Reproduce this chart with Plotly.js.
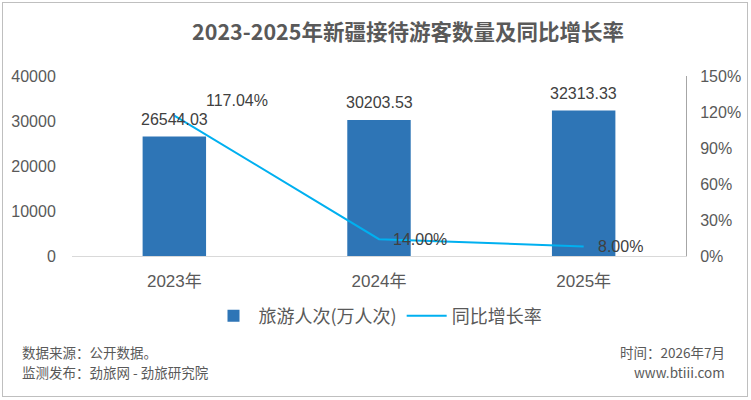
<!DOCTYPE html>
<html>
<head>
<meta charset="utf-8">
<script src="https://cdn.plot.ly/plotly-3.0.1.min.js"></script>
<style>
  body { margin: 0; background: #fff; }
  #wrap { position: relative; width: 751px; height: 400px; }
  #chart { width: 751px; height: 400px; }
  #frame { position: absolute; left: 2px; top: 2px; width: 744px; height: 393px;
           border: 1.5px solid #bfbfbf; pointer-events: none; }
</style>
</head>
<body>
<div id="wrap">
  <div id="chart"></div>
  <div id="frame"></div>
</div>
<script>
var years = ['2023年', '2024年', '2025年'];
var visitors = [26544.03, 30203.53, 32313.33];
var growth = [117.04, 14.00, 8.00];
var growthLabels = ['117.04%', '14.00%', '8.00%'];

var font = '"Liberation Sans", Arial, "Noto Sans CJK SC", sans-serif';
var cjk = '"Noto Sans CJK SC", sans-serif';
var grey = '#595959';

var bars = {
    x: years,
    y: visitors,
    name: '旅游人次(万人次)',
    type: 'bar',
    width: 0.31,
    marker: { color: '#2e75b6' },
    hoverinfo: 'none'
};

var line = {
    x: years,
    y: growth,
    name: '同比增长率',
    type: 'scatter',
    mode: 'lines',
    yaxis: 'y2',
    line: { color: '#00b0f0', width: 2 },
    hoverinfo: 'none'
};

var annotationContent = [];
// value labels above the bars
for (var i = 0; i < years.length; i++) {
    annotationContent.push({
        x: years[i],
        y: visitors[i],
        xref: 'x',
        yref: 'y',
        text: visitors[i].toFixed(2),
        showarrow: false,
        xanchor: 'center',
        yanchor: 'bottom',
        yshift: 7,
        font: { size: 16, color: '#404040', family: font }
    });
}
// percentage labels beside the line points
var shifts = [[30, 15], [12, 0], [12, 0]];
for (var i = 0; i < years.length; i++) {
    annotationContent.push({
        x: years[i],
        y: growth[i],
        xref: 'x',
        yref: 'y2',
        text: growthLabels[i],
        showarrow: false,
        xanchor: 'left',
        yanchor: 'middle',
        xshift: shifts[i][0],
        yshift: shifts[i][1],
        font: { size: 16, color: '#404040', family: font }
    });
}

// footer notes
var footFont = { size: 13.5, color: grey, family: cjk };
var notes = [
    ['数据来源：公开数据。', 20, 352, 'left'],
    ['监测发布：劲旅网 - 劲旅研究院', 20, 372, 'left'],
    ['时间：2026年7月', 727, 352, 'right'],
    ['www.btiii.com', 727, 372, 'right']
];
var L = 72, R = 686, T = 76, B = 256;
notes.forEach(function (n) {
    annotationContent.push({
        text: n[0],
        xref: 'paper',
        yref: 'paper',
        x: (n[1] - L) / (R - L),
        y: (B - n[2]) / (B - T),
        xanchor: n[3],
        yanchor: 'middle',
        showarrow: false,
        font: footFont
    });
});

var layout = {
    width: 751,
    height: 400,
    margin: { l: L, r: 751 - R, t: T, b: 400 - B, pad: 0 },
    paper_bgcolor: '#fff',
    plot_bgcolor: '#fff',
    title: {
        text: '<b>2023-2025年新疆接待游客数量及同比增长率</b>',
        font: { size: 21.5, color: grey, family: cjk },
        x: 408 / 751,
        xanchor: 'center',
        y: 1 - 32 / 400,
        yanchor: 'middle'
    },
    xaxis: {
        type: 'category',
        showgrid: false,
        zeroline: false,
        showline: true,
        linecolor: '#d9d9d9',
        linewidth: 1,
        ticks: 'outside',
        ticklen: 10,
        tickcolor: 'rgba(0,0,0,0)',
        tickfont: { size: 17, color: grey, family: font },
        fixedrange: true
    },
    yaxis: {
        range: [0, 40000],
        dtick: 10000,
        tickformat: 'd',
        showgrid: false,
        zeroline: false,
        showline: false,
        ticks: 'outside',
        ticklen: 12,
        tickcolor: 'rgba(0,0,0,0)',
        tickfont: { size: 16, color: grey, family: font },
        fixedrange: true
    },
    yaxis2: {
        overlaying: 'y',
        side: 'right',
        range: [0, 150],
        dtick: 30,
        ticksuffix: '%',
        showgrid: false,
        zeroline: false,
        showline: true,
        linecolor: '#a6a6a6',
        linewidth: 1,
        ticks: 'outside',
        ticklen: 10,
        tickcolor: 'rgba(0,0,0,0)',
        tickfont: { size: 16, color: grey, family: font },
        fixedrange: true
    },
    annotations: annotationContent,
    showlegend: true,
    legend: {
        orientation: 'h',
        x: 378 / 751,
        xref: 'container',
        xanchor: 'center',
        y: 1 - 316 / 400,
        yref: 'container',
        yanchor: 'middle',
        font: { size: 18, color: grey, family: cjk },
        itemwidth: 40
    }
};

Plotly.newPlot('chart', [bars, line], layout, { displayModeBar: false, staticPlot: true });
</script>
</body>
</html>
